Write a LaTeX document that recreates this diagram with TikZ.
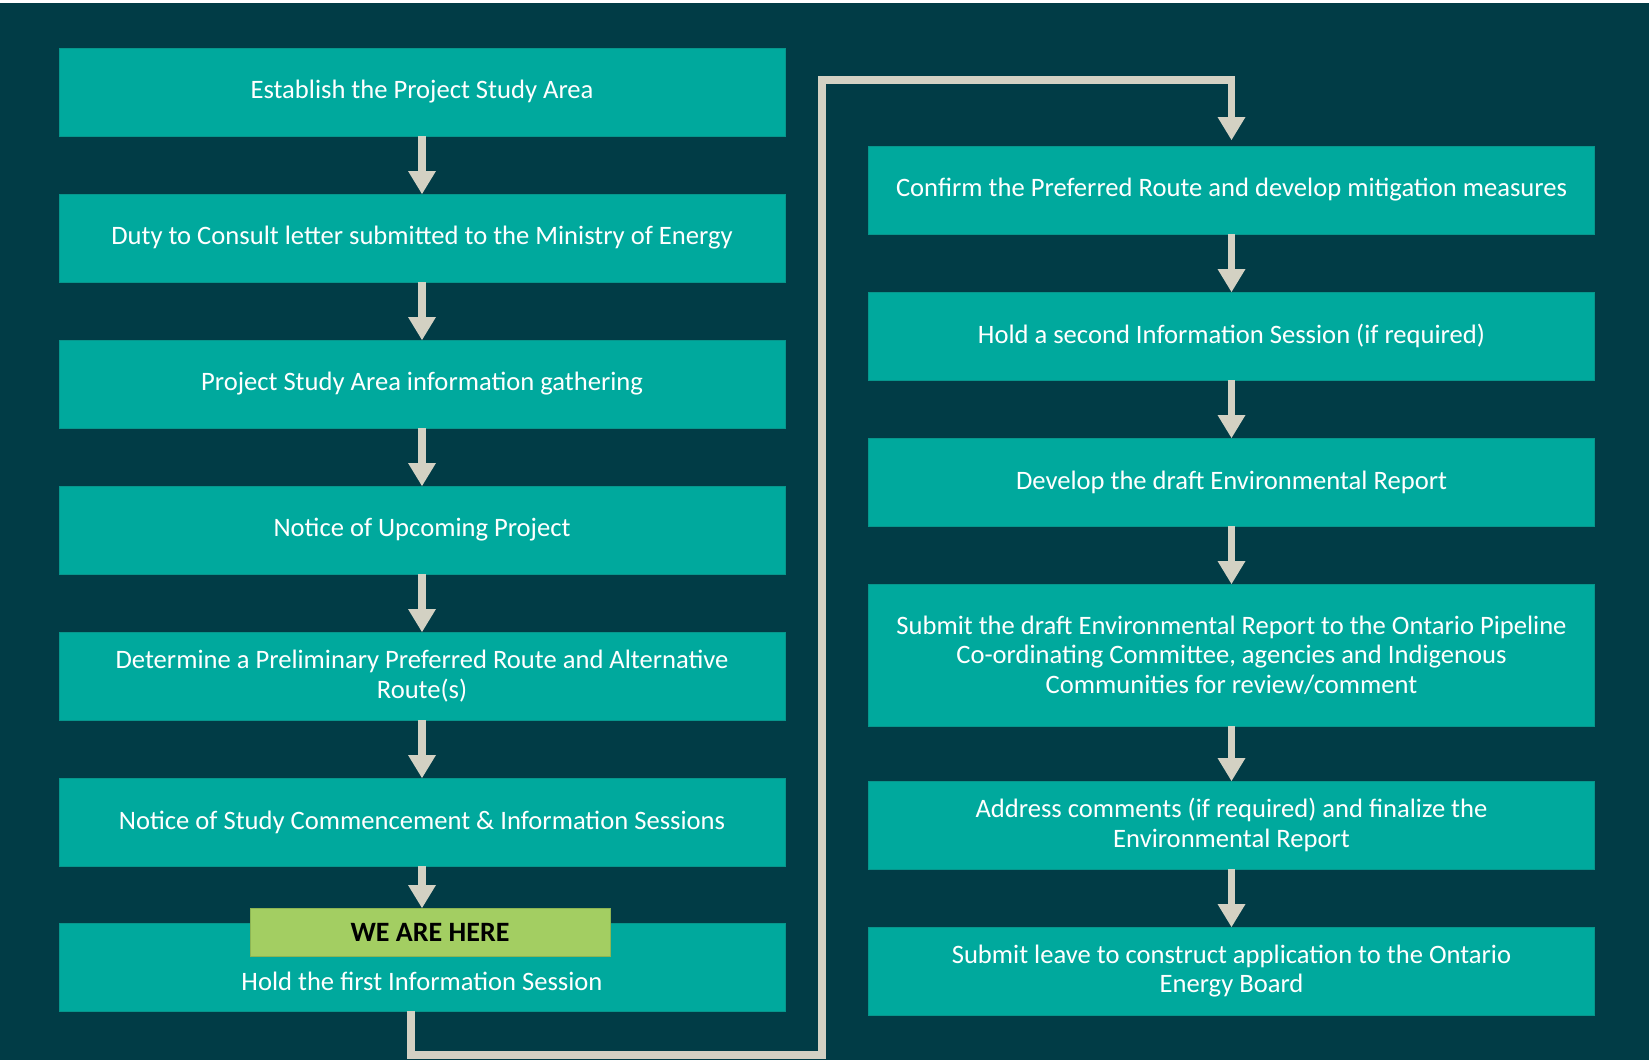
\documentclass[tikz,border=0pt]{standalone}
\usepackage{fontspec}
\setmainfont{Carlito}
\usepackage{xcolor}
\usetikzlibrary{arrows.meta}
\definecolor{bgdark}{HTML}{013C46}
\definecolor{boxteal}{HTML}{00A99D}
\definecolor{boxedge}{HTML}{07968C}
\definecolor{arrowgrey}{HTML}{D3D1C3}
\definecolor{heregreen}{HTML}{A3CE62}
\definecolor{hereedge}{HTML}{8DB553}
\tikzset{
    stepbox/.style={fill=boxteal, draw=boxedge, line width=0.4pt, minimum width=363pt, minimum height=44pt,
        inner sep=0pt, outer sep=0pt, text=white, align=center, font=\fontsize{13.3}{14.7}\selectfont},
    steptext/.style={text=white, align=center, font=\fontsize{13.3}{14.7}\selectfont, inner sep=0pt},
    herebox/.style={fill=heregreen, draw=hereedge, line width=0.4pt, minimum width=180pt, minimum height=24pt,
        inner sep=0pt, outer sep=0pt, font=\fontsize{14}{16}\selectfont\bfseries},
    flow/.style={draw=arrowgrey, line width=3.75pt, -{Triangle[width=14pt,length=11.5pt,line width=0pt]}},
}

\begin{document}
\begin{tikzpicture}[x=0.5pt,y=-0.5pt]
		\fill[white] (0,0) rectangle (1649,1060);
		\fill[bgdark] (0,3) rectangle (1649,1060);
		\node[stepbox] (l1) at (422,92) {Establish the Project Study Area};
		\node[stepbox] (l2) at (422,238) {Duty to Consult letter submitted to the Ministry of Energy};
		\node[stepbox] (l3) at (422,384) {Project Study Area information gathering};
		\node[stepbox] (l4) at (422,530) {Notice of Upcoming Project};
		\node[stepbox] (l5) at (422,676) {Determine a Preliminary Preferred Route and Alternative\\Route(s)};
		\node[stepbox] (l6) at (422,822) {Notice of Study Commencement \& Information Sessions};
		\node[stepbox] (l7) at (422,967) {};
		\node[steptext] (l7text) at ([yshift=-7pt]l7.center) {Hold the first Information Session};
		\node[herebox] (here) at (430,932) {WE ARE HERE};
		\node[stepbox] (r1) at (1231.5,190) {Confirm the Preferred Route and develop mitigation measures};
		\node[stepbox] (r2) at (1231.5,336) {Hold a second Information Session (if required)};
		\node[stepbox] (r3) at (1231.5,482) {Develop the draft Environmental Report};
		\node[stepbox, minimum height=71pt] (r4) at (1231.5,655) {Submit the draft Environmental Report to the Ontario Pipeline\\Co-ordinating Committee, agencies and Indigenous\\Communities for review/comment};
		\node[stepbox] (r5) at (1231.5,825) {Address comments (if required) and finalize the\\Environmental Report};
		\node[stepbox] (r6) at (1231.5,971) {Submit leave to construct application to the Ontario\\Energy Board};
		\draw[flow] (l1) -- (l2);
		\draw[flow] (l2) -- (l3);
		\draw[flow] (l3) -- (l4);
		\draw[flow] (l4) -- (l5);
		\draw[flow] (l5) -- (l6);
		\draw[flow] (l6.south) -- (l6.south |- here.north);
		\draw[flow] (r1) -- (r2);
		\draw[flow] (r2) -- (r3);
		\draw[flow] (r3) -- (r4);
		\draw[flow] (r4) -- (r5);
		\draw[flow] (r5) -- (r6);
		\coordinate (bendlow) at (822,1055);
		\coordinate (bendhigh) at (822,80);
		\draw[flow, shorten >=3pt] ([xshift=-5.5pt]l7.south) |- (bendlow) -- (bendhigh) -| (r1.north);
	\end{tikzpicture}
\end{document}
